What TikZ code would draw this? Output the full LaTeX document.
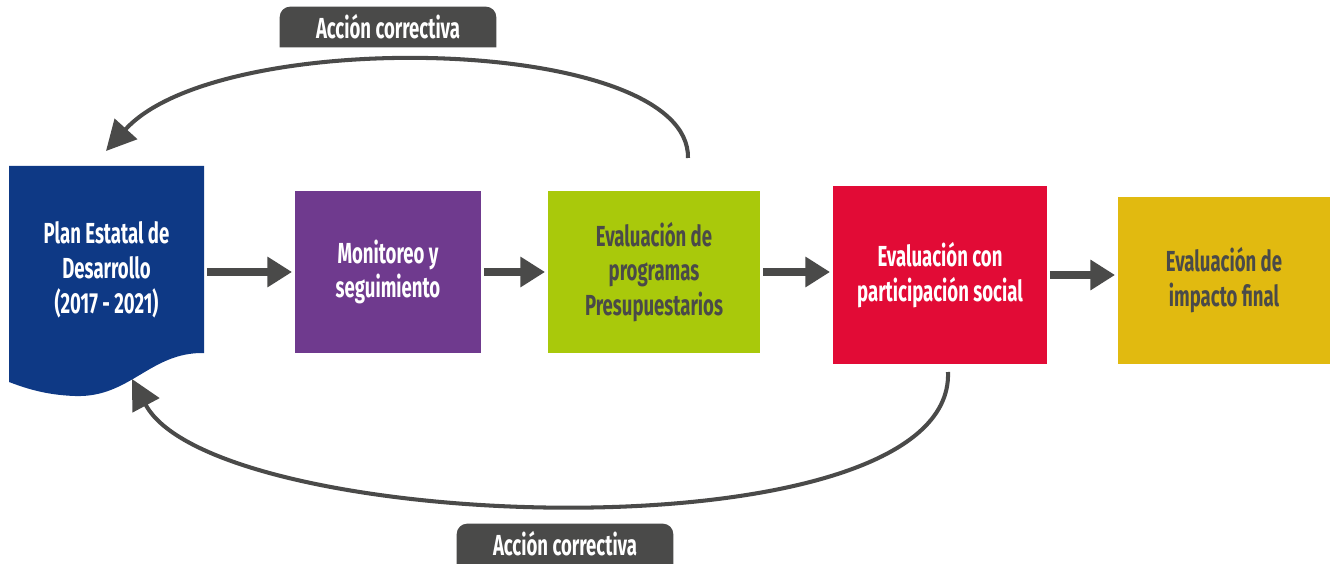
\documentclass[tikz,border=0pt]{standalone}
\usepackage{fontspec}
\setmainfont{Fira Sans}[FakeStretch=0.64]
\usetikzlibrary{arrows.meta, backgrounds}

\definecolor{azulPED}{HTML}{0E3985}
\definecolor{moradoMS}{HTML}{6F3A8E}
\definecolor{verdeEP}{HTML}{A9C90B}
\definecolor{rojoPS}{HTML}{E20B36}
\definecolor{amarilloIF}{HTML}{E1BA10}
\definecolor{grisF}{HTML}{4A4A49}

\tikzset{
    caja/.style={inner sep=0pt, align=center, text=white,
        font=\bfseries\fontsize{16.5}{19.8}\selectfont},
    flecha/.style={grisF, line width=5pt, shorten <=1.5pt, shorten >=1.5pt,
        -{Triangle[length=14pt, width=16.5pt]}},
    curva/.style={grisF, line width=2.3pt,
        -{Triangle[length=17pt, width=17pt]}},
    etiqueta/.style={inner sep=0pt, text=white, minimum width=4.32cm,
        minimum height=0.8cm, font=\bfseries\fontsize{16.5}{17}\selectfont}
}

\begin{document}
\begin{tikzpicture}[x=0.02cm, y=-0.02cm]
    \useasboundingbox (0,0) rectangle (1332,564);
    \clip (0,0) rectangle (1332,564);

    % --- Document shape for the state plan (wavy bottom edge) ---
    \fill[azulPED] (9,166) -- (204,166) -- (204,353)
        .. controls (150,352) and (130,398) .. (75,396)
        .. controls (45,395) and (25,388) .. (9,382) -- cycle;
    \node[caja, minimum width=3.9cm, minimum height=4.16cm] (plan) at (106.5,270)
        {Plan Estatal de\\Desarrollo\\(2017 - 2021)};

    % --- Stages ---
    \node[caja, fill=moradoMS, minimum width=3.72cm, minimum height=3.24cm]
        (mon) at (388,272) {Monitoreo y\\seguimiento};
    \node[caja, fill=verdeEP, text=grisF, minimum width=4.24cm, minimum height=3.24cm]
        (prog) at (654,272) {Evaluación de\\programas\\Presupuestarios};
    \node[caja, fill=rojoPS, minimum width=4.28cm, minimum height=3.56cm]
        (part) at (940,275) {Evaluación con\\participación social};
    \node[caja, fill=amarilloIF, text=grisF, minimum width=4.24cm, minimum height=3.34cm]
        (imp) at (1224,280.5) {Evaluación de\\impacto final};

    % --- Block arrows between stages ---
    \draw[flecha] (plan.east |- mon.west) -- (mon.west);
    \draw[flecha] (mon.east) -- (prog.west);
    \draw[flecha] (prog.east) -- (prog.east -| part.west);
    \draw[flecha] (part.east) -- (part.east -| imp.west);

    % --- Corrective loops back to the plan ---
    \coordinate (topIni) at (688,158);
    \coordinate (topFin) at (106,151);
    \draw[curva] (topIni) .. controls (690,35) and (220,25) .. (topFin);
    \coordinate (botIni) at (948,372);
    \coordinate (botFin) at (132,379);
    \draw[curva] (botIni) .. controls (955,560) and (215,535) .. (botFin);

    % --- Labels (rounded on top only) ---
    \node[etiqueta] (etqTop) at (388,27) {Acción correctiva};
    \node[etiqueta] (etqBot) at (565,544) {Acción correctiva};
    \begin{scope}[on background layer]
        \fill[grisF, rounded corners=6pt] (etqTop.south west) -- (etqTop.north west)
            -- (etqTop.north east) -- (etqTop.south east);
        \fill[grisF, rounded corners=6pt] (etqBot.south west) -- (etqBot.north west)
            -- (etqBot.north east) -- (etqBot.south east);
    \end{scope}
\end{tikzpicture}
\end{document}
